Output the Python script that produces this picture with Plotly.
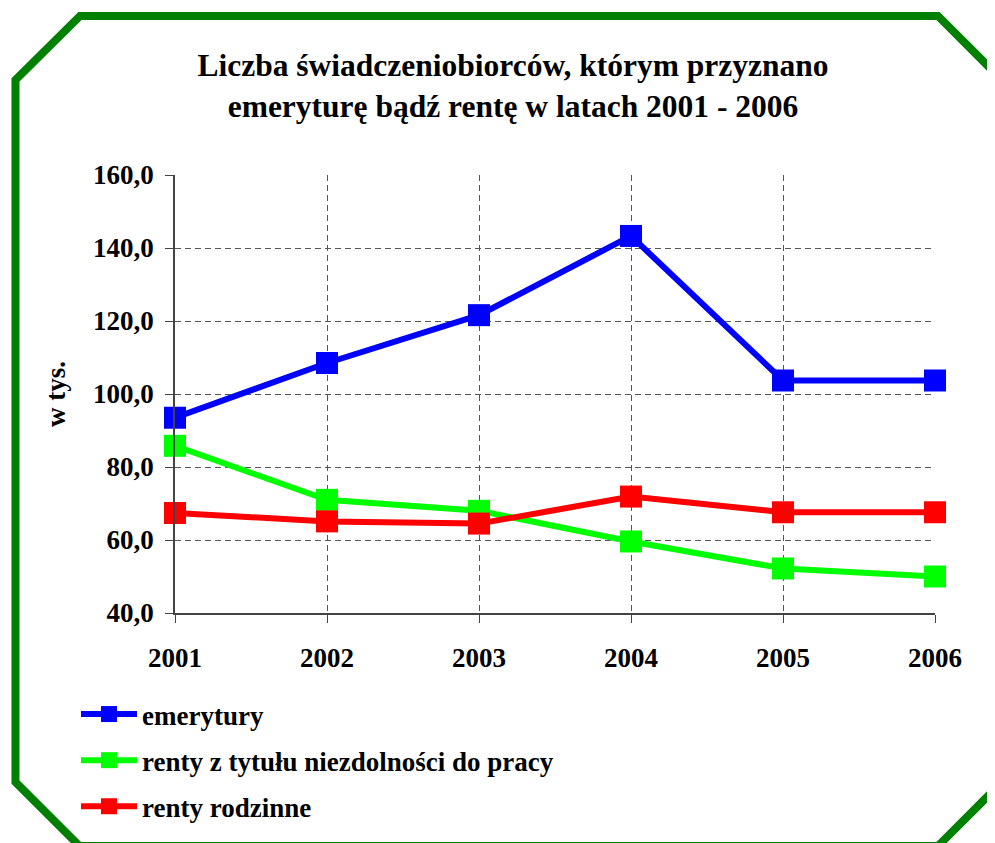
import plotly.graph_objects as go

years = [2001, 2002, 2003, 2004, 2005, 2006]
emerytury = [93.5, 108.5, 121.6, 143.3, 103.7, 103.7]
renty_niezdolnosc = [85.8, 71.0, 68.0, 59.6, 52.2, 50.0]
renty_rodzinne = [67.4, 65.1, 64.5, 71.9, 67.6, 67.6]
series_names = ["emerytury", "renty z tytułu niezdolności do pracy", "renty rodzinne"]
series_colors = ["#0000FF", "#00FF00", "#FF0000"]
y_ticks = [40, 60, 80, 100, 120, 140, 160]

# page body has an 8px margin; compensate so screen pixels match the reference
OFF = 8
W_TOT, H_TOT = 995, 843
ML, MR, MT, MB = 175 - OFF, 60 + OFF, 175 - OFF, 230 + OFF
PW, PH = W_TOT - ML - MR, H_TOT - MT - MB


def px2paper(px, py):
    # px, py are screen pixel coordinates of the reference
    px -= OFF
    py -= OFF
    return (px - ML) / PW, (H_TOT - MB - py) / PH


fig = go.Figure()
for name, vals, col in zip(series_names, [emerytury, renty_niezdolnosc, renty_rodzinne], series_colors):
    fig.add_trace(go.Scatter(
        x=years, y=vals, name=name, mode="lines+markers",
        line=dict(color=col, width=6),
        marker=dict(symbol="square", size=22, color=col),
        cliponaxis=False, legendgroup=name,
    ))

# octagon frame
pts = [(80, 16), (938, 16), (1002, 80), (1002, 782), (938, 846), (79.5, 846), (15.5, 782), (15.5, 80)]
pp = [px2paper(x, y) for x, y in pts]
path = "M " + " L ".join(f"{x:.4f},{y:.4f}" for x, y in pp) + " Z"
fig.add_shape(type="path", path=path, xref="paper", yref="paper",
              line=dict(color="#008000", width=8), layer="above")

font_family = "Liberation Serif"
grid_col = "#555555"

fig.update_layout(
    width=W_TOT, height=H_TOT,
    margin=dict(l=ML, r=MR, t=MT, b=MB, pad=0),
    paper_bgcolor="white", plot_bgcolor="white",
    separators=",.",
    font=dict(family=font_family, size=27, color="black", weight="bold"),
    title=dict(
        text="Liczba świadczeniobiorców, którym przyznano<br>emeryturę bądź rentę w latach 2001 - 2006",
        x=(513 - OFF) / W_TOT, xref="container", xanchor="center",
        y=1 - (76 - OFF) / H_TOT, yref="container", yanchor="top",
        font=dict(family=font_family, size=31.5, color="black", weight="bold"),
    ),
    xaxis=dict(
        range=[2001, 2006], tickvals=years, ticktext=[str(y) for y in years],
        showgrid=True, gridcolor=grid_col, griddash="6px,4px", gridwidth=1,
        showline=True, linecolor="#444444", linewidth=1.5,
        ticks="outside", ticklen=8, tickcolor="#444444", ticklabelstandoff=12,
        zeroline=False, fixedrange=True,
    ),
    yaxis=dict(
        range=[40, 160], tickvals=y_ticks, tickformat=".1f",
        showgrid=True, gridcolor=grid_col, griddash="6px,4px", gridwidth=1,
        showline=True, linecolor="#444444", linewidth=1.5,
        ticks="outside", ticklen=8, tickcolor="#444444", ticklabelstandoff=6,
        zeroline=False, fixedrange=True,
        title=dict(text="w tys.", standoff=20,
                   font=dict(family=font_family, size=27, color="black", weight="bold")),
    ),
    legend=dict(
        x=px2paper(76, 0)[0], xanchor="left",
        y=px2paper(0, 690)[1], yanchor="top",
        traceorder="grouped", tracegroupgap=8,
        font=dict(family=font_family, size=27, color="black", weight="bold"),
        bgcolor="rgba(0,0,0,0)", itemwidth=56,
    ),
    showlegend=True,
)

fig.write_html("out.html")
